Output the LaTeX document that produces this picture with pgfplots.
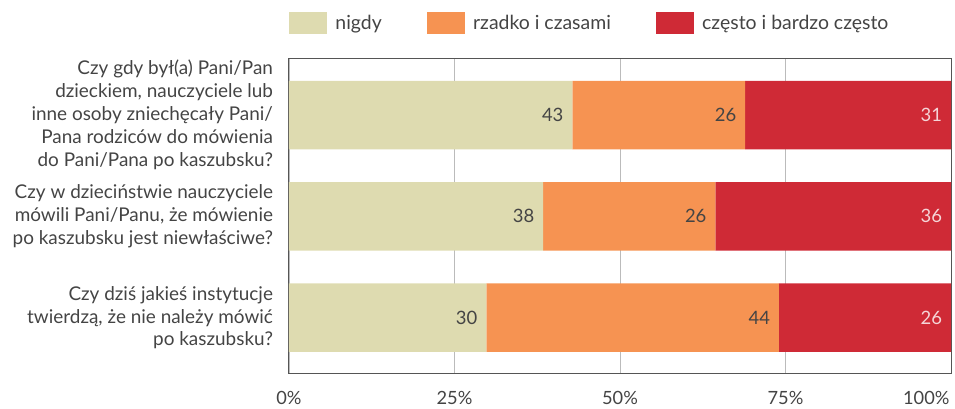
\documentclass[border=0pt]{standalone}
\usepackage{fontspec}
\setmainfont{Lato}
\usepackage{pgfplots}
\pgfplotsset{compat=1.18}
\definecolor{cNig}{HTML}{DEDBB0}
\definecolor{cRza}{HTML}{F69352}
\definecolor{cCze}{HTML}{CF2A36}
\definecolor{cText}{HTML}{444444}
\definecolor{cGrid}{HTML}{BBBBBB}
\definecolor{cFrame}{HTML}{555555}
\definecolor{cLight}{HTML}{F5D5D7}
\newcommand{\lfont}{\fontsize{19}{23}\selectfont}
\newcommand{\tfont}{\fontsize{18.3}{22}\selectfont}
\newcommand{\nfont}{\fontsize{18.5}{22}\selectfont}
\newcommand{\gfont}{\fontsize{19.5}{23}\selectfont}
\begin{document}
\begin{tikzpicture}
\begin{axis}[
  name=ax,
  scale only axis,
  width=662bp, height=315.5bp,
  xbar stacked,
  bar width=68.5bp,
  xmin=0, xmax=100,
  ymin=-0.556, ymax=2.558,
  xtick={0,25,50,75},
  extra x ticks={100},
  extra x tick style={grid=none, xticklabel style={anchor=north east, xshift=2bp}},
  xticklabel={\pgfmathprintnumber{\tick}\%},
  /pgf/number format/assume math mode=true,
  xmajorgrids,
  major grid style={cGrid, line width=0.8pt},
  ytick={0,1,2},
  yticklabels={
    {Czy dziś jakieś instytucje\\twierdzą, że nie należy mówić\\po kaszubsku?},
    {Czy w dzieciństwie nauczyciele\\mówili Pani/Panu, że mówienie\\po kaszubsku jest niewłaściwe?},
    {Czy gdy był(a) Pani/Pan\\dzieckiem, nauczyciele lub\\inne osoby zniechęcały Pani/\\Pana rodziców do mówienia\\do Pani/Pana po kaszubsku?}},
  yticklabel style={align=right, font=\lfont, text=cText, xshift=-12.5bp},
  xticklabel style={font=\tfont, text=cText, yshift=-14bp},
  tick style={draw=none},
  axis line style={cFrame, line width=1pt},
  point meta=explicit,
  visualization depends on={rawx \as \rawx},
  nodes near coords,
  every node near coord/.append style={anchor=east,
    xshift={(3.31*\rawx-5.4)*1bp}, font=\nfont, text=cText},
  legend columns=3,
  legend image code/.code={\fill[#1] (0bp,-11bp) rectangle (38bp,11bp);},
  legend style={draw=none, fill=none, inner sep=0pt, at={(0,1)}, anchor=south west,
    yshift=24bp, font=\gfont, text=cText,
    nodes={inner sep=0pt},
    /tikz/every odd column/.append style={column sep=8.3bp},
    /tikz/every even column/.append style={column sep=45bp}},
]
\addplot[fill=cNig, draw=none] coordinates {(29.8,0) [30] (38.4,1) [38] (42.8,2) [43]};
\addlegendentry{nigdy}
\addplot[fill=cRza, draw=none] coordinates {(44.2,0) [44] (26.0,1) [26] (26.1,2) [26]};
\addlegendentry{rzadko i czasami}
\addplot[fill=cCze, draw=none, every node near coord/.append style={text=cLight}] coordinates {(26.0,0) [26] (35.6,1) [36] (31.1,2) [31]};
\addlegendentry{często i bardzo często}
\end{axis}
\path ([xshift=-289bp,yshift=-34bp]ax.south west) rectangle ([xshift=4bp,yshift=58.5bp]ax.north east);
\end{tikzpicture}
\end{document}
